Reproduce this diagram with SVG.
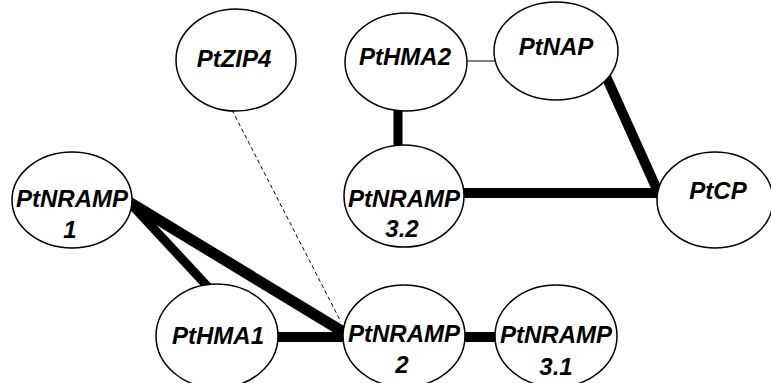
<svg xmlns="http://www.w3.org/2000/svg" width="771" height="383" viewBox="0 0 771 383">
<style>
.n ellipse{fill:#fff;stroke:#000;stroke-width:1.5}
.n text{font-family:"Liberation Sans",Arial,sans-serif;font-weight:bold;font-style:italic;font-size:24px;text-anchor:middle;fill:#000}
.e line{stroke:#000;stroke-linecap:butt}
.thick{stroke-width:10}
</style>
<rect width="771" height="383" fill="#fff"/>
<g id="edges" class="e">
<line x1="467" y1="61" x2="495" y2="61" stroke-width="1"/>
<line class="thick" x1="398" y1="108" x2="398" y2="148" style="stroke-width:9"/>
<line class="thick" x1="460" y1="193" x2="660" y2="193"/>
<line class="thick" x1="600" y1="63" x2="659" y2="194"/>
<line class="thick" x1="460" y1="337" x2="498" y2="337"/>
<line class="thick" x1="274" y1="337" x2="346" y2="337"/>
<line class="thick" x1="129" y1="202" x2="345" y2="333" style="stroke-width:11"/>
<line class="thick" x1="129" y1="202" x2="209" y2="288" style="stroke-width:9"/>
<line x1="232" y1="110" x2="341" y2="322" stroke-width="1" stroke-dasharray="4 3"/>
</g>
<g id="PtZIP4" class="n"><ellipse cx="236" cy="60" rx="60" ry="51"/><text x="234" y="67">PtZIP4</text></g>
<g id="PtHMA2" class="n"><ellipse cx="406" cy="62" rx="61" ry="49"/><text x="405" y="65">PtHMA2</text></g>
<g id="PtNAP" class="n"><ellipse cx="556" cy="51" rx="62" ry="49"/><text x="556" y="55">PtNAP</text></g>
<g id="PtNRAMP3.2" class="n"><ellipse cx="404" cy="196" rx="60" ry="51"/><text x="404" y="207">PtNRAMP</text><text x="402" y="237">3.2</text></g>
<g id="PtCP" class="n"><ellipse cx="715" cy="200" rx="58" ry="48"/><text x="718" y="199">PtCP</text></g>
<g id="PtNRAMP1" class="n"><ellipse cx="72" cy="200" rx="60" ry="48"/><text x="72" y="207">PtNRAMP</text><text x="70" y="238">1</text></g>
<g id="PtHMA1" class="n"><ellipse cx="217" cy="336" rx="61" ry="52"/><text x="218" y="344">PtHMA1</text></g>
<g id="PtNRAMP2" class="n"><ellipse cx="404" cy="336" rx="61" ry="51"/><text x="404" y="342">PtNRAMP</text><text x="402" y="373">2</text></g>
<g id="PtNRAMP3.1" class="n"><ellipse cx="556" cy="336" rx="61" ry="51"/><text x="556" y="343">PtNRAMP</text><text x="556" y="375">3.1</text></g>
</svg>
